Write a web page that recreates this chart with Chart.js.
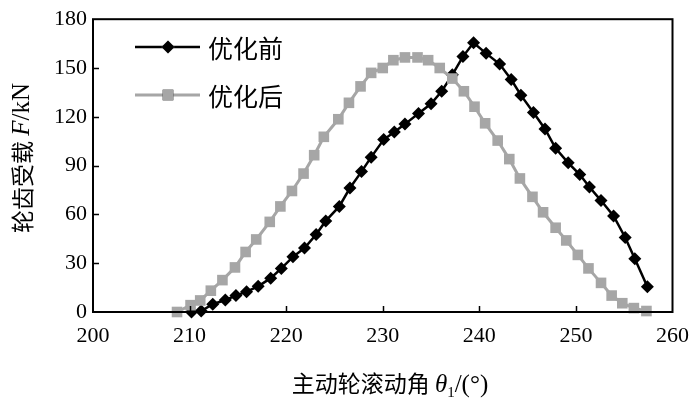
<!DOCTYPE html>
<html>
<head>
<meta charset="utf-8">
<script src="https://cdn.jsdelivr.net/npm/chart.js@4.4.0/dist/chart.umd.min.js"></script>
<style>
  html, body { margin: 0; padding: 0; background: #fff; }
  #wrap { width: 700px; height: 399px; }
</style>
</head>
<body>
<div id="wrap"><canvas id="drawChart" width="700" height="399"></canvas></div>
<script>
// 优化前
var angleBefore = [210.2, 211.2, 212.4, 213.7, 214.8, 215.9, 217.1, 218.4, 219.5, 220.7,
	221.9, 223.1, 224.1, 225.5, 226.6, 227.8, 228.8, 230.1, 231.2, 232.3,
	233.7, 235.0, 236.1, 237.2, 238.3, 239.4, 240.7, 242.1, 243.3, 244.3,
	245.6, 246.8, 247.9, 249.2, 250.4, 251.4, 252.6, 253.9, 255.1, 256.1, 257.4];
var loadBefore = [0, 0.6, 4.8, 7.4, 10.1, 12.5, 15.8, 20.8, 26.8, 33.9,
	39.3, 47.6, 56, 64.9, 76.2, 86.3, 95.2, 106, 110.7, 115.5,
	122, 128, 135.7, 145.8, 157, 165.5, 159, 152.4, 142.9, 133.3,
	122.6, 112.5, 100.6, 91.7, 84.5, 76.8, 68.5, 59, 45.8, 32.7, 15.5];
// 优化后
var angleAfter = [208.7, 210.1, 211.1, 212.2, 213.4, 214.7, 215.8, 216.9, 218.3, 219.4,
	220.6, 221.8, 222.9, 223.9, 225.4, 226.5, 227.7, 228.8, 230.0, 231.1,
	232.3, 233.6, 234.7, 235.9, 237.2, 238.4, 239.5, 240.6, 241.9, 243.1,
	244.2, 245.5, 246.6, 247.9, 249.0, 250.2, 251.3, 252.6, 253.7, 254.8, 256.0, 257.3];
var loadAfter = [0, 4.2, 7.1, 13.1, 19.6, 27.4, 36.9, 44.6, 55.4, 64.9,
	74.4, 85.1, 96.4, 107.7, 118.5, 128.6, 138.7, 147, 150, 154.8,
	156.5, 156.5, 154.8, 150, 143.5, 135.7, 126.2, 116, 105.4, 94,
	82.1, 70.8, 61.3, 51.8, 44, 35.1, 26.8, 17.9, 10.1, 5.4, 2.4, 0.6];
var seriesNames = ['优化前', '优化后'];
var xMin = 200, xMax = 260, xStep = 10;
var yMin = 0, yMax = 180, yStep = 30;

function toPoints(xs, ys) {
	var pts = [];
	for (var i = 0; i < xs.length; i++) pts.push({x: xs[i], y: ys[i]});
	return pts;
}

var serif = '"Liberation Serif", "Times New Roman", serif';
var cjk = '"Noto Sans CJK SC", sans-serif';

var framePlugin = {
	id: 'frame',
	afterDraw: function (chart) {
		var ctx = chart.ctx;
		var a = chart.chartArea;
		var sx = chart.scales.x, sy = chart.scales.y;
		ctx.save();
		// box
		ctx.strokeStyle = '#000';
		ctx.lineWidth = 2;
		ctx.strokeRect(a.left, a.top, a.right - a.left, a.bottom - a.top);
		// inside ticks
		ctx.lineWidth = 1.5;
		ctx.beginPath();
		for (var v = xMin + xStep; v < xMax; v += xStep) {
			var px = Math.round(sx.getPixelForValue(v)) + 0.5;
			ctx.moveTo(px, a.bottom);
			ctx.lineTo(px, a.bottom - 6);
		}
		for (var w = yMin + yStep; w < yMax; w += yStep) {
			var py = Math.round(sy.getPixelForValue(w)) + 0.5;
			ctx.moveTo(a.left, py);
			ctx.lineTo(a.left + 6, py);
		}
		ctx.stroke();

		// legend
		var ds = chart.data.datasets;
		var rows = [47, 95];
		for (var i = 0; i < ds.length; i++) {
			var d = ds[i];
			var yy = rows[i];
			ctx.strokeStyle = d.borderColor;
			ctx.lineWidth = d.borderWidth;
			ctx.beginPath();
			ctx.moveTo(135, yy);
			ctx.lineTo(200, yy);
			ctx.stroke();
			Chart.helpers.drawPoint(ctx, {pointStyle: d.pointStyle, radius: d.pointRadius, borderWidth: 0}, 168, yy);
			ctx.fillStyle = d.pointBackgroundColor;
			ctx.fill();
			ctx.fillStyle = '#000';
			ctx.font = '25px ' + cjk;
			ctx.textBaseline = 'middle';
			ctx.textAlign = 'left';
			ctx.fillText(d.label, 208, yy + 1);
		}

		// x title: 主动轮滚动角 θ1/(°)
		ctx.fillStyle = '#000';
		ctx.textBaseline = 'alphabetic';
		var parts = [
			{t: '主动轮滚动角 ', f: '23px ' + cjk, dy: 0},
			{t: 'θ', f: 'italic 25px ' + serif, dy: 0},
			{t: '1', f: '15px ' + serif, dy: 5},
			{t: '/(°)', f: '25px ' + serif, dy: 0}
		];
		var total = 0;
		parts.forEach(function (p) { ctx.font = p.f; p.w = ctx.measureText(p.t).width; total += p.w; });
		var x0 = 390 - total / 2, base = 392;
		parts.forEach(function (p) {
			ctx.font = p.f;
			ctx.fillText(p.t, x0, base + p.dy);
			x0 += p.w;
		});

		// y title: 轮齿受载 F/kN
		ctx.translate(22, 158);
		ctx.rotate(-Math.PI / 2);
		var yparts = [
			{t: '轮齿受载 ', f: '23px ' + cjk},
			{t: 'F', f: 'italic 25px ' + serif},
			{t: '/kN', f: '25px ' + serif}
		];
		total = 0;
		yparts.forEach(function (p) { ctx.font = p.f; p.w = ctx.measureText(p.t).width; total += p.w; });
		x0 = -total / 2;
		ctx.textBaseline = 'middle';
		yparts.forEach(function (p) {
			ctx.font = p.f;
			ctx.fillText(p.t, x0, 0);
			x0 += p.w;
		});
		ctx.restore();
	}
};

var ctx = document.getElementById('drawChart').getContext('2d');
var drawChart = new Chart(ctx, {
	type: 'scatter',
	data: {
		datasets: [{
			label: seriesNames[0],
			data: toPoints(angleBefore, loadBefore),
			showLine: true,
			tension: 0,
			borderColor: '#000',
			borderWidth: 2.5,
			pointStyle: 'rectRot',
			pointRadius: 6.5,
			pointBackgroundColor: '#000',
			pointBorderWidth: 0,
			clip: false,
			order: 1
		}, {
			label: seriesNames[1],
			data: toPoints(angleAfter, loadAfter),
			showLine: true,
			tension: 0,
			borderColor: '#a6a6a6',
			borderWidth: 3,
			pointStyle: 'rect',
			pointRadius: 7.5,
			pointBackgroundColor: '#a6a6a6',
			pointBorderWidth: 0,
			clip: false,
			order: 0
		}]
	},
	options: {
		responsive: false,
		animation: false,
		layout: { padding: { left: 0, right: 19, top: 10, bottom: 0 } },
		plugins: { legend: { display: false }, tooltip: { enabled: false } },
		scales: {
			x: {
				type: 'linear',
				min: xMin, max: xMax,
				grid: { display: false, drawTicks: false },
				border: { display: false },
				ticks: { stepSize: xStep, color: '#000', padding: 11, font: { family: serif, size: 22 } },
				afterFit: function (s) { s.height = 87; }
			},
			y: {
				min: yMin, max: yMax,
				grid: { display: false, drawTicks: false },
				border: { display: false },
				ticks: { stepSize: yStep, color: '#000', padding: 6, font: { family: serif, size: 22 } },
				afterFit: function (s) { s.width = 93; }
			}
		}
	},
	plugins: [framePlugin]
});
</script>
</body>
</html>
